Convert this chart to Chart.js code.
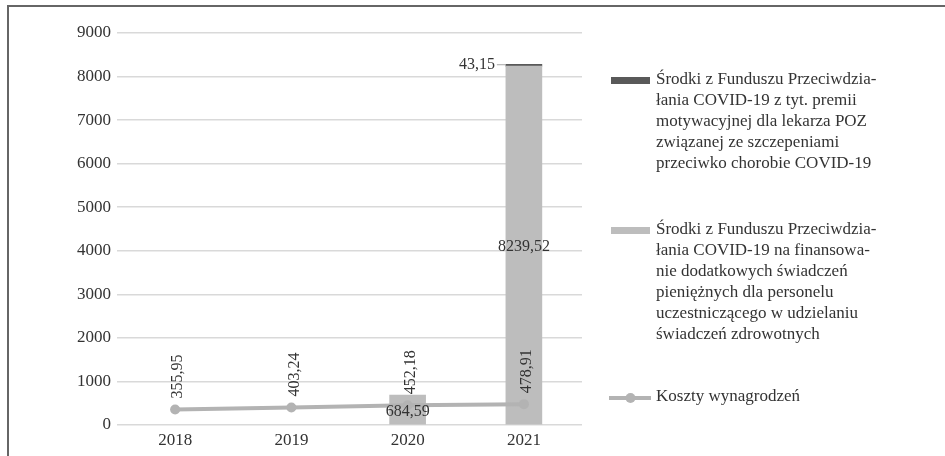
<!DOCTYPE html>
<html>
<head>
<meta charset="utf-8">
<script src="https://cdn.jsdelivr.net/npm/chart.js@4.4.1/dist/chart.umd.min.js"></script>
<style>
  html, body { margin: 0; padding: 0; background: #fff; overflow: hidden; }
  #frame { position: absolute; left: 7px; top: 5px; width: 1000px; height: 500px; border: 2px solid #666; }
  #wrap { position: absolute; left: 0; top: 0; width: 945px; height: 456px; }
</style>
</head>
<body>
<div id="frame"></div>
<div id="wrap"><canvas id="chart"></canvas></div>
<script>
// ── Data ─────────────────────────────────────────────────────────────
const YEARS = ['2018', '2019', '2020', '2021'];
const WAGE_COSTS = [355.95, 403.24, 452.18, 478.91];
const COVID_EXTRA_BENEFITS = [null, null, 684.59, 8239.52];
const COVID_VACCINE_BONUS = [null, null, null, 43.15];
const Y_TICK_MIN = 0;
const Y_TICK_MAX = 9000;
const Y_TICK_STEP = 1000;

// Legend texts, already broken into lines as in the source
const LEGEND_BONUS = [
  'Środki z Funduszu Przeciwdzia-',
  'łania COVID-19 z tyt. premii',
  'motywacyjnej dla lekarza POZ',
  'związanej ze szczepeniami',
  'przeciwko chorobie COVID-19',
];
const LEGEND_EXTRA = [
  'Środki z Funduszu Przeciwdzia-',
  'łania COVID-19 na finansowa-',
  'nie dodatkowych świadczeń',
  'pieniężnych dla personelu',
  'uczestniczącego w udzielaniu',
  'świadczeń zdrowotnych',
];
const LEGEND_WAGES = ['Koszty wynagrodzeń'];

const COLORS = {
  bonus: '#595959',
  extra: '#bdbdbd',
  line: '#b3b3b3',
  grid: '#d9d9d9',
  text: '#333333',
};
const FONT = '"Liberation Serif", "Times New Roman", serif';

// 1234.5 -> "1234,50"
function plNum(v) { return v.toFixed(2).replace('.', ','); }

// value labels on bars and line points
const valueLabels = {
  id: 'valueLabels',
  afterDatasetsDraw(chart) {
    const c = chart.ctx;
    c.save();
    c.fillStyle = COLORS.text;
    c.font = `16px ${FONT}`;

    // big grey bars: centered inside
    chart.getDatasetMeta(0).data.forEach((bar, i) => {
      const v = COVID_EXTRA_BENEFITS[i];
      if (v == null) return;
      c.textAlign = 'center';
      c.textBaseline = 'middle';
      c.fillText(plNum(v), bar.x, (bar.y + bar.base) / 2 + 2);
    });

    // thin dark bar on top: label to the left with a leader line
    chart.getDatasetMeta(1).data.forEach((bar, i) => {
      const v = COVID_VACCINE_BONUS[i];
      if (v == null) return;
      const left = bar.x - bar.width / 2;
      c.textAlign = 'right';
      c.textBaseline = 'middle';
      c.fillText(plNum(v), left - 11, bar.y + 1);
      c.strokeStyle = '#a6a6a6';
      c.lineWidth = 1;
      c.beginPath();
      c.moveTo(left - 9, bar.y + 0.5);
      c.lineTo(left, bar.y + 0.5);
      c.stroke();
    });

    // line points: rotated labels above
    chart.getDatasetMeta(2).data.forEach((pt, i) => {
      c.save();
      c.translate(pt.x + 3, pt.y - 11);
      c.rotate(-Math.PI / 2);
      c.textAlign = 'left';
      c.textBaseline = 'middle';
      c.fillText(plNum(WAGE_COSTS[i]), 0, 0);
      c.restore();
    });
    c.restore();
  },
};

// legend on the right, drawn by hand so the long labels can wrap
const sideLegend = {
  id: 'sideLegend',
  afterDraw(chart) {
    const c = chart.ctx;
    const boxX = 611, boxW = 39, textX = 656, lh = 21;
    c.save();
    c.font = `17px ${FONT}`;
    c.fillStyle = COLORS.text;
    c.textAlign = 'left';
    c.textBaseline = 'middle';

    function block(lines, y0) {
      lines.forEach((s, k) => c.fillText(s, textX, y0 + k * lh));
    }

    c.fillStyle = COLORS.bonus;
    c.fillRect(boxX, 77, boxW, 7);
    c.fillStyle = COLORS.text;
    block(LEGEND_BONUS, 80);

    c.fillStyle = COLORS.extra;
    c.fillRect(boxX, 227, boxW, 7);
    c.fillStyle = COLORS.text;
    block(LEGEND_EXTRA, 230);

    c.strokeStyle = COLORS.line;
    c.lineWidth = 4;
    c.beginPath();
    c.moveTo(boxX - 2, 398);
    c.lineTo(boxX + boxW + 1, 398);
    c.stroke();
    c.fillStyle = COLORS.line;
    c.beginPath();
    c.arc(boxX + boxW / 2, 398, 5, 0, Math.PI * 2);
    c.fill();
    c.fillStyle = COLORS.text;
    block(LEGEND_WAGES, 397);
    c.restore();
  },
};

new Chart(document.getElementById('chart'), {
  type: 'bar',
  data: {
    labels: YEARS,
    datasets: [
      {
        label: LEGEND_EXTRA.join(' '),
        data: COVID_EXTRA_BENEFITS,
        backgroundColor: COLORS.extra,
        stack: 'covid', order: 2, barThickness: 36,
      },
      {
        label: LEGEND_BONUS.join(' '),
        data: COVID_VACCINE_BONUS,
        backgroundColor: COLORS.bonus,
        stack: 'covid', order: 2, barThickness: 36,
      },
      {
        type: 'line',
        label: LEGEND_WAGES[0],
        data: WAGE_COSTS,
        stack: 'wages', order: 1,
        borderColor: COLORS.line, backgroundColor: COLORS.line,
        borderWidth: 4, pointRadius: 5, pointBorderWidth: 0,
        tension: 0,
      },
    ],
  },
  options: {
    responsive: true, maintainAspectRatio: false, animation: false,
    layout: { padding: { left: 0, right: 363, top: 33, bottom: 0 } },
    plugins: { legend: { display: false }, tooltip: { enabled: false } },
    scales: {
      x: {
        stacked: true,
        grid: { display: false, drawTicks: false },
        border: { display: false },
        ticks: { color: COLORS.text, font: { family: FONT, size: 17 }, padding: 5 },
        afterFit: (s) => { s.height = 31; },
      },
      y: {
        stacked: true,
        min: Y_TICK_MIN, max: Y_TICK_MAX,
        grid: { color: COLORS.grid, lineWidth: 1.5, drawTicks: false },
        border: { display: false },
        ticks: {
          stepSize: Y_TICK_STEP, color: COLORS.text, padding: 6,
          font: { family: FONT, size: 17 },
          callback: (v) => String(v),
        },
        afterFit: (s) => { s.width = 117; },
      },
    },
  },
  plugins: [valueLabels, sideLegend],
});
</script>
</body>
</html>
